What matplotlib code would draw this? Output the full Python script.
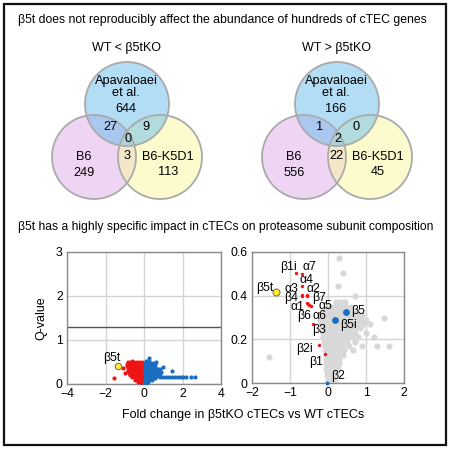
import matplotlib
matplotlib.use("Agg")
import matplotlib.pyplot as plt
from matplotlib.patches import Circle, Rectangle

plt.rcParams['font.family'] = ['Liberation Sans', 'DejaVu Sans']

# ---------------- data ----------------
venn_set_labels = ["Apavaloaei\net al.", "B6", "B6-K5D1"]
# order: A only, B6 only, K5D1 only, A&B6, A&K5D1, B6&K5D1, all
venn_left_counts = [644, 249, 113, 27, 9, 3, 0]
venn_right_counts = [166, 556, 45, 1, 0, 22, 2]
venn_titles = ["WT < β5tKO", "WT > β5tKO"]

# left volcano: genes (log2 fold change, Q-value)
red_fc = [-0.85, -0.7, -0.55, -0.4, -0.25, -0.12,
          -0.9, -0.75, -0.6, -0.45, -0.3, -0.15, -0.03,
          -0.88, -0.73, -0.58, -0.43, -0.28, -0.13, -0.02,
          -0.85, -0.7, -0.55, -0.4, -0.25, -0.1,
          -0.82, -0.67, -0.52, -0.37, -0.22, -0.07,
          -0.8, -0.65, -0.5, -0.35, -0.2, -0.05,
          -0.75, -0.6, -0.45, -0.3, -0.15, -0.02,
          -0.6, -0.45, -0.3, -0.15, -0.02,
          -0.45, -0.3, -0.15, -0.02,
          -0.3, -0.15, -0.03,
          -0.1, 0.0,
          -1.56, -1.07, -1.0, -0.6]
red_q = [0.50, 0.50, 0.50, 0.50, 0.50, 0.50,
         0.45, 0.45, 0.45, 0.45, 0.45, 0.45, 0.45,
         0.40, 0.40, 0.40, 0.40, 0.40, 0.40, 0.40,
         0.35, 0.35, 0.35, 0.35, 0.35, 0.35,
         0.30, 0.30, 0.30, 0.30, 0.30, 0.30,
         0.25, 0.25, 0.25, 0.25, 0.25, 0.25,
         0.20, 0.20, 0.20, 0.20, 0.20, 0.20,
         0.15, 0.15, 0.15, 0.15, 0.15,
         0.10, 0.10, 0.10, 0.10,
         0.05, 0.05, 0.05,
         0.01, 0.01,
         0.13, 0.36, 0.26, 0.53]
blue_fc = [0.1, 0.25,
           0.05, 0.18, 0.32, 0.45,
           0.05, 0.18, 0.32, 0.45, 0.58,
           0.05, 0.18, 0.32, 0.45, 0.58,
           0.05, 0.18, 0.32, 0.45, 0.58, 0.72, 0.85,
           0.05, 0.18, 0.32, 0.45, 0.58, 0.72, 0.9,
           0.05, 0.18, 0.32, 0.45, 0.58, 0.72, 0.85,
           0.05, 0.18, 0.32, 0.45, 0.58, 0.72,
           0.85, 1.0, 1.15, 1.3, 1.45, 1.6, 1.75, 1.9, 2.05, 2.2, 2.45, 2.65,
           0.05, 0.18, 0.32, 0.45, 0.58,
           0.04, 0.15, 0.28, 0.4,
           0.03, 0.12, 0.22,
           0.02, 0.08,
           0.28, 0.97, 1.44, 0.6]
blue_q = [0.52, 0.52,
          0.48, 0.48, 0.48, 0.48,
          0.43, 0.43, 0.43, 0.43, 0.43,
          0.38, 0.38, 0.38, 0.38, 0.38,
          0.33, 0.33, 0.33, 0.33, 0.33, 0.33, 0.33,
          0.28, 0.28, 0.28, 0.28, 0.28, 0.28, 0.28,
          0.23, 0.23, 0.23, 0.23, 0.23, 0.23, 0.23,
          0.18, 0.18, 0.18, 0.18, 0.18, 0.18,
          0.17, 0.17, 0.17, 0.17, 0.17, 0.17, 0.17, 0.17, 0.17, 0.17, 0.16, 0.16,
          0.13, 0.13, 0.13, 0.13, 0.13,
          0.08, 0.08, 0.08, 0.08,
          0.04, 0.04, 0.04,
          0.01, 0.01,
          0.60, 0.38, 0.30, 0.50]

# right volcano: proteins
gray_fc = [0.2, 0.32, 0.44,
           0.0, 0.12, 0.24, 0.36, 0.48, 0.6,
           -0.1, 0.02, 0.14, 0.26, 0.38, 0.5, 0.62, 0.74,
           -0.18, -0.06, 0.06, 0.18, 0.3, 0.42, 0.54, 0.66, 0.78, 0.9,
           -0.2, -0.08, 0.04, 0.16, 0.28, 0.4, 0.52, 0.64, 0.76, 0.88, 1.0,
           -0.18, -0.06, 0.06, 0.18, 0.3, 0.42, 0.54, 0.66, 0.8, 0.95, 1.1,
           -0.15, -0.03, 0.09, 0.21, 0.33, 0.45, 0.57, 0.7, 0.85,
           -0.14, -0.02, 0.1, 0.22, 0.34, 0.46, 0.58, 0.72, 1.0,
           -0.12, 0.0, 0.12, 0.24, 0.36, 0.48, 0.62, 0.8, 1.2,
           -0.1, 0.02, 0.14, 0.26, 0.38, 0.5, 0.7,
           -0.08, 0.04, 0.16, 0.28, 0.4, 0.55, 0.9, 1.3, 1.6,
           -0.08, 0.04, 0.16, 0.28, 0.42, 0.65,
           -0.06, 0.05, 0.16, 0.28, 0.4,
           -0.05, 0.06, 0.17, 0.3,
           -0.05, 0.06, 0.17, 0.28,
           -0.04, 0.06, 0.16, 0.25,
           -0.03, 0.06, 0.15, 0.22,
           -0.02, 0.06, 0.14,
           0.0, 0.08, 0.16,
           0.28, 0.40, 0.25, 1.47, -1.54, 0.7]
gray_q = [0.37, 0.37, 0.37,
          0.35, 0.35, 0.35, 0.35, 0.35, 0.35,
          0.33, 0.33, 0.33, 0.33, 0.33, 0.33, 0.33, 0.33,
          0.31, 0.31, 0.31, 0.31, 0.31, 0.31, 0.31, 0.31, 0.31, 0.31,
          0.29, 0.29, 0.29, 0.29, 0.29, 0.29, 0.29, 0.29, 0.29, 0.29, 0.29,
          0.27, 0.27, 0.27, 0.27, 0.27, 0.27, 0.27, 0.27, 0.27, 0.27, 0.27,
          0.25, 0.25, 0.25, 0.25, 0.25, 0.25, 0.25, 0.25, 0.25,
          0.23, 0.23, 0.23, 0.23, 0.23, 0.23, 0.23, 0.23, 0.23,
          0.21, 0.21, 0.21, 0.21, 0.21, 0.21, 0.21, 0.21, 0.21,
          0.19, 0.19, 0.19, 0.19, 0.19, 0.19, 0.19,
          0.17, 0.17, 0.17, 0.17, 0.17, 0.17, 0.17, 0.17, 0.17,
          0.15, 0.15, 0.15, 0.15, 0.15, 0.15,
          0.13, 0.13, 0.13, 0.13, 0.13,
          0.11, 0.11, 0.11, 0.11,
          0.09, 0.09, 0.09, 0.09,
          0.07, 0.07, 0.07, 0.07,
          0.05, 0.05, 0.05, 0.05,
          0.03, 0.03, 0.03,
          0.01, 0.01, 0.01,
          0.571, 0.505, 0.444, 0.296, 0.118, 0.40]

b5t_fc, b5t_q = -1.37, 0.415
sub_red_names = ['β1i', 'α7', 'α4', 'α3', 'β4', 'α2', 'β7', 'α1', 'β6', 'α6', 'α5', 'β3', 'β2i', 'β1']
sub_red_fc = [-0.83, -0.68, -0.68, -0.68, -0.68, -0.55, -0.55, -0.55, -0.53, -0.49, -0.45, -0.40, -0.24, -0.07]
sub_red_q = [0.504, 0.500, 0.446, 0.405, 0.400, 0.405, 0.400, 0.365, 0.360, 0.355, 0.351, 0.270, 0.173, 0.131]
sub_blue_names = ['β5', 'β5i', 'β2']
sub_blue_fc = [0.47, 0.19, -0.02]
sub_blue_q = [0.325, 0.290, 0.002]

# ---------------- figure ----------------
W, H = 450, 449
fig = plt.figure(figsize=(4.5, 4.49), dpi=100)
ov = fig.add_axes([0, 0, 1, 1])
ov.set_xlim(0, W)
ov.set_ylim(H, 0)
ov.axis('off')

fig.patches.append(Rectangle((4 / W, 1 - 445 / H), 442 / W, 441 / H, transform=fig.transFigure,
                             fill=False, edgecolor='#111111', linewidth=1.6))

ov.text(222, 20, "β5t does not reproducibly affect the abundance of hundreds of cTEC genes",
        ha='center', va='center', fontsize=8.8)
ov.text(226, 227, "β5t has a highly specific impact in cTECs on proteasome subunit composition",
        ha='center', va='center', fontsize=8.7)

venn_colors = ['#67bdeb', '#dfadeb', '#fbf99d']
for cx, counts, title in [(127, venn_left_counts, venn_titles[0]), (337, venn_right_counts, venn_titles[1])]:
    centers = [(cx, 104), (cx - 33, 157), (cx + 33, 157)]
    r = 42
    for (x, y), col in zip([centers[1], centers[2], centers[0]], [venn_colors[1], venn_colors[2], venn_colors[0]]):
        ov.add_patch(Circle((x, y), r, facecolor=col, alpha=0.5, edgecolor='none'))
    for (x, y) in centers:
        ov.add_patch(Circle((x, y), r, facecolor='none', edgecolor='#aaaaaa', linewidth=1.3))
    ov.text(cx, 48, title, ha='center', va='center', fontsize=9)
    fs = 9.2
    ov.text(cx - 1, 87, venn_set_labels[0], ha='center', va='center', fontsize=fs, linespacing=1.1)
    ov.text(cx - 1, 108.5, str(counts[0]), ha='center', va='center', fontsize=fs)
    ov.text(cx - 43, 156.5, venn_set_labels[1], ha='center', va='center', fontsize=fs)
    ov.text(cx - 43, 173, str(counts[1]), ha='center', va='center', fontsize=fs)
    ov.text(cx + 41, 156.5, venn_set_labels[2], ha='center', va='center', fontsize=fs)
    ov.text(cx + 41, 172, str(counts[2]), ha='center', va='center', fontsize=fs)
    ov.text(cx - 17, 127, str(counts[3]), ha='center', va='center', fontsize=fs)
    ov.text(cx + 19, 127, str(counts[4]), ha='center', va='center', fontsize=fs)
    ov.text(cx, 156, str(counts[5]), ha='center', va='center', fontsize=fs)
    ov.text(cx + 1, 138.5, str(counts[6]), ha='center', va='center', fontsize=fs)


def style(ax):
    for s in ax.spines.values():
        s.set_color('#8a8a8a')
        s.set_linewidth(1.0)
    ax.tick_params(length=0, labelsize=8.8, pad=3, colors='black')
    ax.grid(True, color='#d4d4d4', linewidth=1.0)
    ax.set_axisbelow(True)


axL = fig.add_axes([67 / W, 1 - 384 / H, 154 / W, 132 / H])
axL.set_xlim(-4, 4)
axL.set_ylim(0, 3)
axL.set_xticks([-4, -2, 0, 2, 4])
axL.set_yticks([0, 1, 2, 3])
style(axL)
axL.axhline(1.30, color='#555555', linewidth=1.0, zorder=2)
axL.scatter(red_fc, red_q, s=9, c='#f01515', linewidths=0, zorder=3)
axL.scatter(blue_fc, blue_q, s=9, c='#1a6dbf', linewidths=0, zorder=3)
axL.scatter([b5t_fc], [b5t_q], s=22, c='#ffee30', edgecolors='#555555', linewidths=0.6, zorder=4)
axL.text(-1.68, 0.58, 'β5t', ha='center', va='center', fontsize=8.8)
axL.set_ylabel('Q-value', fontsize=9, labelpad=6)

axR = fig.add_axes([252 / W, 1 - 383 / H, 152 / W, 131 / H])
axR.set_xlim(-2, 2)
axR.set_ylim(0, 0.6)
axR.set_xticks([-2, -1, 0, 1, 2])
axR.set_yticks([0, 0.2, 0.4, 0.6])
axR.set_yticklabels(['0', '0.2', '0.4', '0.6'])
style(axR)
axR.scatter(gray_fc, gray_q, s=20, c='#d8d8d8', linewidths=0, zorder=2)
axR.scatter(sub_red_fc, sub_red_q, s=6, c='#ee1818', linewidths=0, zorder=3)
axR.scatter(sub_blue_fc[:2], sub_blue_q[:2], s=24, c='#1a6dbf', linewidths=0, zorder=3)
axR.scatter(sub_blue_fc[2:], sub_blue_q[2:], s=8, c='#1a6dbf', linewidths=0, zorder=3, clip_on=False)
axR.scatter([b5t_fc], [b5t_q], s=26, c='#ffee30', edgecolors='#555555', linewidths=0.6, zorder=4)

label_pos = {'β5t': (-1.66, 0.434), 'β1i': (-1.045, 0.533), 'α7': (-0.49, 0.533), 'α4': (-0.58, 0.472),
             'α3': (-0.96, 0.43), 'α2': (-0.39, 0.43), 'β4': (-0.98, 0.388), 'β7': (-0.24, 0.39),
             'α1': (-0.80, 0.35), 'α5': (-0.08, 0.353), 'β6': (-0.62, 0.308), 'α6': (-0.22, 0.308),
             'β3': (-0.23, 0.243), 'β5': (0.80, 0.33), 'β5i': (0.53, 0.266), 'β2i': (-0.61, 0.154),
             'β1': (-0.32, 0.095), 'β2': (0.27, 0.032)}
for name, (x, y) in label_pos.items():
    axR.text(x, y, name, ha='center', va='center', fontsize=8.8, zorder=5)

ov.text(243, 415, 'Fold change in β5tKO cTECs vs WT cTECs', ha='center', va='center', fontsize=9)

fig.savefig('out.png', dpi=100)
